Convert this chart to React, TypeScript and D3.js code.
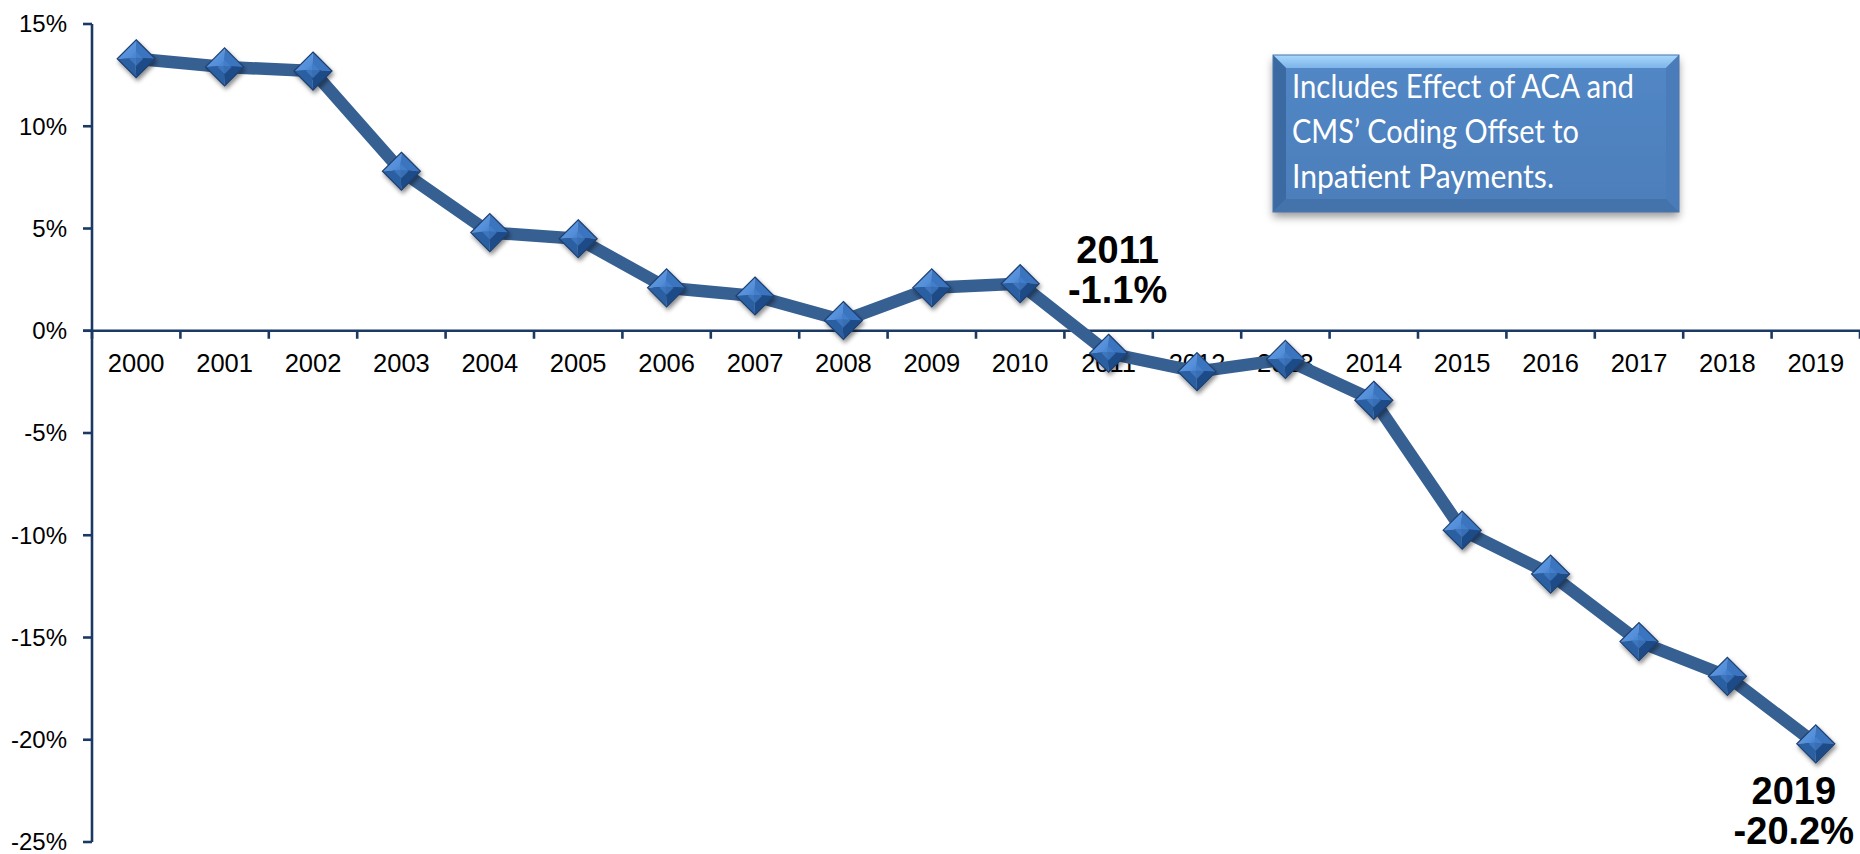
import React from 'react';
import * as d3 from 'd3';

// chart data
const years = ['2000', '2001', '2002', '2003', '2004', '2005', '2006', '2007', '2008', '2009',
  '2010', '2011', '2012', '2013', '2014', '2015', '2016', '2017', '2018', '2019'];
const margins = [13.3, 12.9, 12.7, 7.8, 4.8, 4.5, 2.1, 1.7, 0.5, 2.1,
  2.3, -1.1, -2.0, -1.4, -3.4, -9.75, -11.9, -15.2, -16.9, -20.2];
const yTicks = [15, 10, 5, 0, -5, -10, -15, -20, -25];
const callouts = [
  { year: '2011', lines: ['2011', '-1.1%'] },
  { year: '2019', lines: ['2019', '-20.2%'] },
];
const noteLines = ['Includes Effect of ACA and', 'CMS\u2019 Coding Offset to', 'Inpatient Payments.'];
const noteWidths = [342, 287, 262];

const W = 1860;
const H = 854;
const AXIS = '#1b3a63';
const LINE = '#376092';
const FONT = '"Liberation Sans", Arial, sans-serif';

const x = d3.scaleBand<string>().domain(years).range([92, 1860]).padding(0);
const y = d3.scaleLinear().domain([-25, 15]).range([842, 24]);
const cx = (yr: string) => (x(yr) || 0) + x.bandwidth() / 2;

const Marker = ({ px, py }: { px: number; py: number }) => {
  const r = 19;
  const T = [0, -r], R = [r, 0], B = [0, r], L = [-r, 0], C = [-1, -1];
  const pts = (a: number[][]) => a.map(p => p.join(',')).join(' ');
  return (
    <g transform={`translate(${px},${py})`} filter="url(#mshadow)">
      <polygon points={pts([L, T, C])} fill="url(#facetTL)" />
      <polygon points={pts([T, R, C])} fill="#3b74c0" />
      <polygon points={pts([R, B, C])} fill="#1f4c88" />
      <polygon points={pts([B, L, C])} fill="#2c5fa2" />
      <polygon points={pts([[0, -7], [7, 0], [0, 7], [-7, 0]])} fill="#4a86d0" opacity={0.6} />
      <polygon points={pts([T, R, B, L])} fill="none" stroke="#1d3f70" strokeWidth={1.2} />
    </g>
  );
};

export default function App() {
  const line = d3.line<number>()
    .x((_, i) => cx(years[i]))
    .y(d => y(d));

  const y0 = y(0);
  const boundaries = years.map(yr => x(yr) || 0).concat([x.range()[1]]);

  // note box geometry
  const bx = 1273, by = 55, bw = 406, bh = 157, bv = 13;

  return (
    <div style={{ position: 'fixed', left: 0, top: 0 }}>
      <svg width={W} height={H} style={{ display: 'block', background: '#fff' }}>
        <defs>
          <filter id="mshadow" x="-50%" y="-50%" width="200%" height="200%">
            <feDropShadow dx="1.5" dy="3" stdDeviation="2" floodColor="#000" floodOpacity="0.45" />
          </filter>
          <filter id="bshadow" x="-10%" y="-20%" width="120%" height="150%">
            <feDropShadow dx="0" dy="5" stdDeviation="4" floodColor="#000" floodOpacity="0.4" />
          </filter>
          <linearGradient id="facetTL" x1="0" y1="0" x2="1" y2="1">
            <stop offset="0" stopColor="#6aa4ea" />
            <stop offset="1" stopColor="#4b86d2" />
          </linearGradient>
          <linearGradient id="boxTop" x1="0" y1="0" x2="0" y2="1">
            <stop offset="0" stopColor="#a8d8fc" />
            <stop offset="1" stopColor="#7db4e8" />
          </linearGradient>
          <linearGradient id="boxFace" x1="0" y1="0" x2="0" y2="1">
            <stop offset="0" stopColor="#5287c6" />
            <stop offset="1" stopColor="#4c7eba" />
          </linearGradient>
        </defs>

        {/* y axis */}
        <line x1={92} x2={92} y1={y(15)} y2={y(-25)} stroke={AXIS} strokeWidth={2.6} />
        {yTicks.map(t => (
          <g key={t}>
            <line x1={83} x2={92} y1={y(t)} y2={y(t)} stroke={AXIS} strokeWidth={2.6} />
            <text x={67} y={y(t)} dy="0.35em" textAnchor="end" fontFamily={FONT} fontSize={24} fill="#000">
              {t}%
            </text>
          </g>
        ))}

        {/* x axis along zero */}
        <line x1={83} x2={x.range()[1]} y1={y0} y2={y0} stroke={AXIS} strokeWidth={2.6} />
        {boundaries.map((b, i) => (
          <line key={i} x1={b} x2={b} y1={y0} y2={y0 + 8} stroke={AXIS} strokeWidth={2.6} />
        ))}
        {years.map(yr => (
          <text key={yr} x={cx(yr)} y={372} textAnchor="middle" fontFamily={FONT} fontSize={25.5} fill="#000">
            {yr}
          </text>
        ))}

        {/* series */}
        <path d={line(margins) || ''} fill="none" stroke={LINE} strokeWidth={12.5} strokeLinejoin="round" />
        {margins.map((v, i) => (
          <Marker key={years[i]} px={cx(years[i])} py={y(v)} />
        ))}

        {/* callouts */}
        {callouts.map(c => {
          const i = years.indexOf(c.year);
          const px = cx(c.year);
          const py = y(margins[i]);
          const above = c.year === '2011';
          const tx = above ? px + 9 : px - 22;
          const base = above ? py - 90 : py + 60;
          const step = 40;
          return (
            <text key={c.year} textAnchor="middle" fontFamily={FONT} fontWeight="bold" fontSize={38} fill="#000">
              {c.lines.map((l, k) => (
                <tspan key={k} x={tx} y={base + k * step}>{l}</tspan>
              ))}
            </text>
          );
        })}

        {/* note box */}
        <g filter="url(#bshadow)">
          <rect x={bx} y={by} width={bw} height={bh} fill="url(#boxFace)" />
        </g>
        <polygon points={`${bx},${by} ${bx + bw},${by} ${bx + bw - bv},${by + bv} ${bx + bv},${by + bv}`} fill="url(#boxTop)" />
        <polygon points={`${bx},${by} ${bx + bv},${by + bv} ${bx + bv},${by + bh - bv} ${bx},${by + bh}`} fill="#3b6aa3" />
        <polygon points={`${bx + bw},${by} ${bx + bw},${by + bh} ${bx + bw - bv},${by + bh - bv} ${bx + bw - bv},${by + bv}`} fill="#4a7cb9" />
        <polygon points={`${bx},${by + bh} ${bx + bw},${by + bh} ${bx + bw - bv},${by + bh - bv} ${bx + bv},${by + bh - bv}`} fill="#4472ab" />
        <rect x={bx} y={by} width={bw} height={bh} fill="none" stroke="#4a76ad" strokeWidth={1} />
        {noteLines.map((l, k) => (
          <text key={k} x={1292} y={98 + k * 45} fontFamily="Lato, 'Open Sans', sans-serif" fontSize={33}
            fill="#fff" textLength={noteWidths[k]} lengthAdjust="spacingAndGlyphs">
            {l}
          </text>
        ))}
      </svg>
    </div>
  );
}
